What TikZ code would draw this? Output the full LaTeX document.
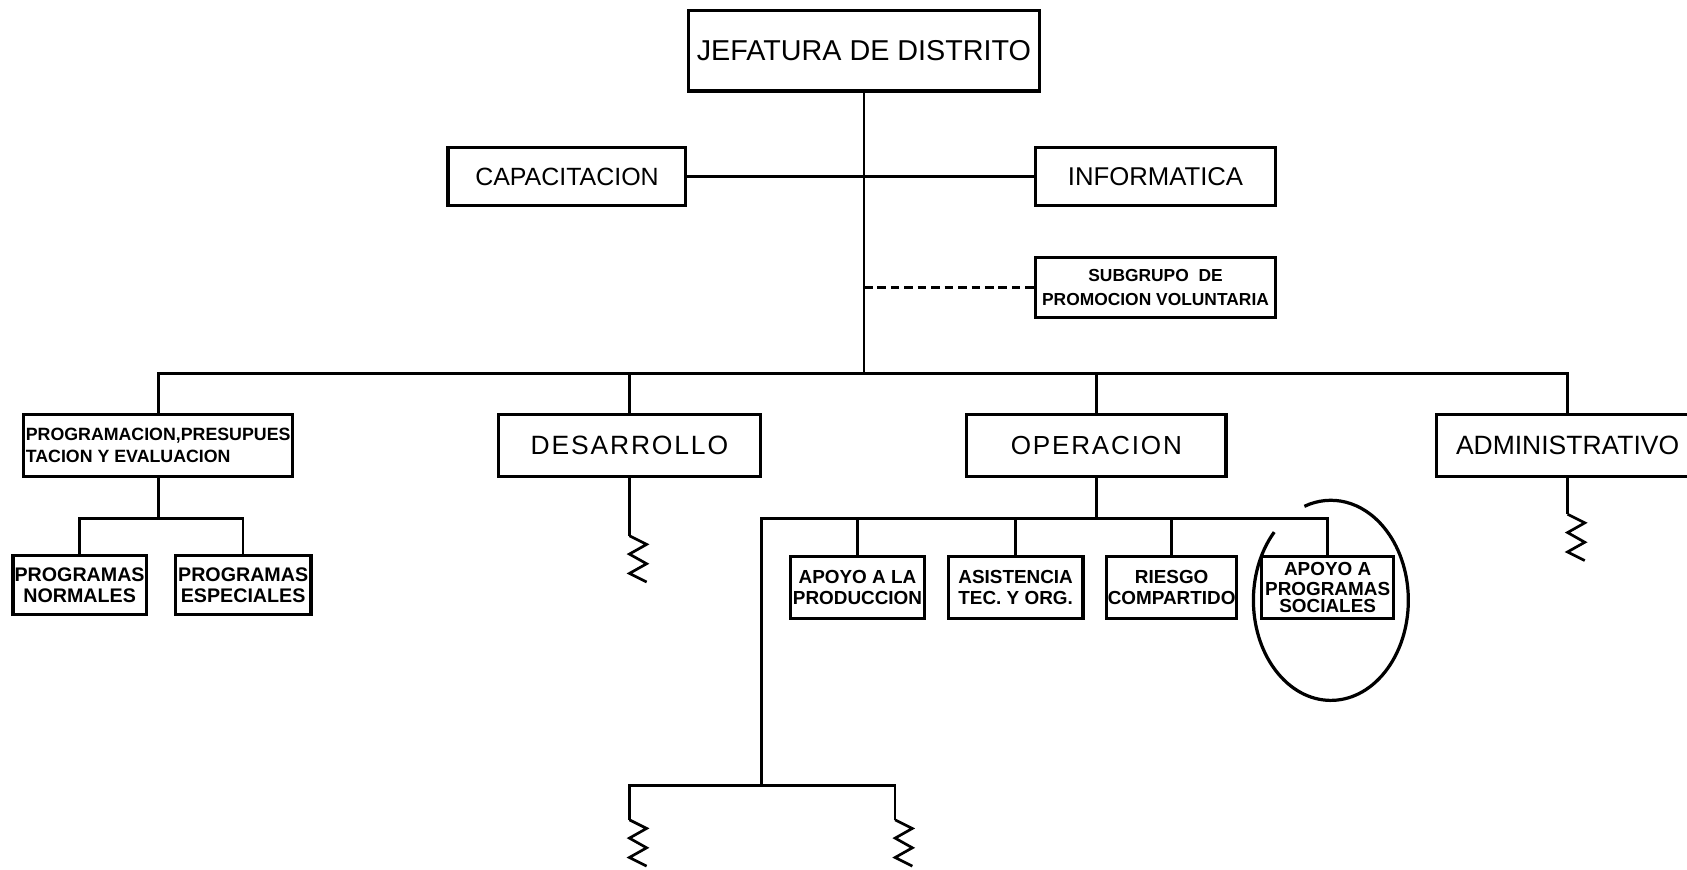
\documentclass[tikz,border=0pt]{standalone}
\usepackage{fontspec}
\setmainfont{Liberation Sans}
\newfontfamily\espaciada[LetterSpace=7]{Liberation Sans}

\begin{document}
\begin{tikzpicture}[x=0.1mm, y=-0.1mm,
    caja/.style={draw, line width=0.3mm, inner sep=0pt, align=center},
    linea/.style={line width=0.25mm},
    grande/.style={caja, minimum width=24.4mm, minimum height=5.8mm},
    chica/.style={caja, minimum width=12.5mm, minimum height=5.8mm,
        font={\fontsize{5}{5.5}\selectfont\bfseries}}]
    \path[use as bounding box, fill=white] (0,0) rectangle (1568,808);
    % cajas de arriba
    \node[caja, minimum width=32.6mm, minimum height=7.5mm, font=\fontsize{7.6}{9}\selectfont] (jefe) at (803,47) {JEFATURA DE DISTRITO};
    \node[caja, minimum width=22.1mm, minimum height=5.4mm, font=\fontsize{6.6}{8}\selectfont] (capa) at (527,164) {CAPACITACION};
    \node[caja, minimum width=22.3mm, minimum height=5.4mm, font=\fontsize{6.8}{8}\selectfont] (info) at (1074,164) {INFORMATICA};
    \node[caja, minimum width=22.3mm, minimum height=5.6mm, font={\fontsize{4.6}{6.3}\selectfont\bfseries}] (subg) at (1074,267) {SUBGRUPO\ \ DE\\PROMOCION VOLUNTARIA};
    % segundo nivel
    \node[grande, minimum width=25mm, align=left, font={\fontsize{4.7}{5.9}\selectfont\bfseries}] (prog) at (147,414) {PROGRAMACION,PRESUPUES\\TACION Y EVALUACION};
    \node[grande, font=\fontsize{7}{8}\selectfont\espaciada] (desa) at (585,414) {DESARROLLO};
    \node[grande, minimum width=24.1mm, font=\fontsize{6.9}{8}\selectfont\espaciada] (oper) at (1019,414) {OPERACION};
    \node[grande, font=\fontsize{7}{8}\selectfont] (admi) at (1457,414) {ADMINISTRATIVO};
    % tercer nivel
    \node[chica, minimum width=12.4mm, minimum height=5.5mm, font={\fontsize{5.2}{5.5}\selectfont\bfseries}] (pnor) at (74,544) {PROGRAMAS\\NORMALES};
    \node[chica, minimum width=12.6mm, minimum height=5.5mm, font={\fontsize{5.2}{5.5}\selectfont\bfseries}] (pesp) at (226,544) {PROGRAMAS\\ESPECIALES};
    \node[chica] (apro) at (797,546) {APOYO A LA\\PRODUCCION};
    \node[chica] (asis) at (944,546) {ASISTENCIA\\TEC. Y ORG.};
    \node[chica, minimum width=12.1mm] (ries) at (1089,546) {RIESGO\\COMPARTIDO};
    \node[chica, minimum width=12.3mm] (apso) at (1234,546) {APOYO A\\PROGRAMAS\\[-1pt]SOCIALES};
    % puntos de las lineas
    \coordinate (barra) at (803,347);
    \coordinate (bprog) at (147,482);
    \coordinate (boper) at (1019,482);
    \coordinate (bbajo) at (708,730);
    \coordinate (zdes) at (585,498);
    \coordinate (zadm) at (1457,478);
    \coordinate (zizq) at (585,762);
    \coordinate (zder) at (832,762);
    % lineas
    \draw[line width=0.18mm] (jefe.south) -- (barra);
    \draw[linea] (capa.east) -- (info.west);
    \draw[linea, dash pattern=on 0.8mm off 0.45mm] (barra |- subg.west) -- (subg.west);
    \draw[linea] (prog.north) |- (barra) -| (admi.north);
    \draw[linea] (desa.north) -- (desa.north |- barra);
    \draw[linea] (oper.north) -- (oper.north |- barra);
    \draw[linea] (prog.south) -- (bprog);
    \draw[linea] (pnor.north) |- (bprog) -| (pesp.north);
    \draw[linea] (oper.south) -- (boper);
    \draw[linea] (apso.north) |- (boper) -| (bbajo);
    \draw[linea] (apro.north) -- (apro.north |- boper);
    \draw[linea] (asis.north) -- (asis.north |- boper);
    \draw[linea] (ries.north) -- (ries.north |- boper);
    \draw[linea] (zizq) |- (bbajo) -| (zder);
    \draw[linea] (desa.south) -- (zdes);
    \draw[linea] (admi.south) -- (zadm);
    % cortes
    \foreach \z in {zdes, zadm, zizq, zder}
        \draw[linea] (\z) -- ++(16,8) -- ++(-16,9) -- ++(16,9) -- ++(-16,9) -- ++(16,8);
    % circulo
    \coordinate (centro) at (1237,558);
    \draw[line width=0.3mm] ([shift={(223:72 and 93)}]centro) arc[start angle=223, end angle=-110, x radius=72, y radius=93];
\end{tikzpicture}
\end{document}
